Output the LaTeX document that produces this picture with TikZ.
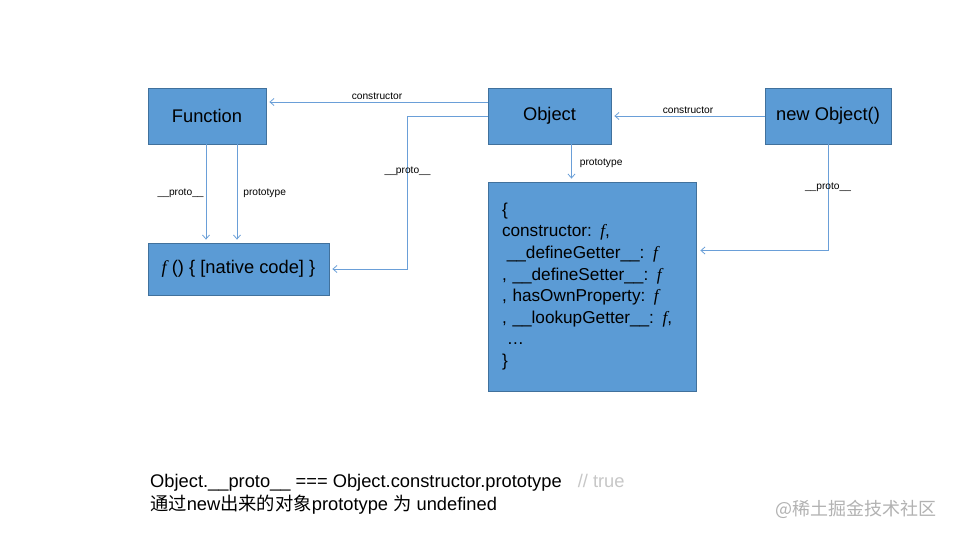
\documentclass[tikz,border=0pt]{standalone}
\usepackage{fontspec}
\setmainfont{Liberation Sans}
\newfontfamily\cjk{Noto Sans CJK SC}
\newfontfamily\fsym{Liberation Serif}
\newcommand{\fn}{{\fsym\itshape f}}
\usetikzlibrary{arrows.meta}
\definecolor{boxfill}{HTML}{5B9BD5}
\definecolor{boxline}{HTML}{41719C}
\definecolor{linkblue}{HTML}{6A9FD8}
\begin{document}
\begin{tikzpicture}[
    x=1pt, y=-1pt,
    every node/.style={font=\fontsize{18.3}{22}\selectfont},
    jsbox/.style={rectangle, draw=boxline, line width=0.8pt, fill=boxfill, minimum height=56pt, inner sep=0pt},
    link/.style={draw=linkblue, line width=0.8pt, -{Straight Barb[length=4pt,width=7pt]}, shorten >=3pt},
    lbl/.style={font=\fontsize{10.2}{12}\selectfont, inner sep=2pt},
    note/.style={anchor=west, inner sep=0pt}
]
\fill[white] (0,0) rectangle (953,537);
\useasboundingbox (0,0) rectangle (953,537);

% Top row
\node[jsbox, minimum width=118pt] (fn) at (207,116) {Function};
\node[jsbox, minimum width=123pt] (obj) at (549.5,116) {Object};
\node[jsbox, minimum width=126pt] (newobj) at (828,116) {new Object()};

% Prototype objects
\node[jsbox, minimum width=181pt, minimum height=52pt] (native) at (238.5,269) {\fn\ () \{ [native code] \}};
\node[jsbox, minimum width=208pt, minimum height=209pt, text width=180pt, inner xsep=14pt, align=left,
      font=\fontsize{17.2}{21.6}\selectfont] (protobox) at (592,286.5)
  {\{\\
   constructor: \fn,\\
   \hspace*{0.28em}\_\_defineGetter\_\_: \fn\\
   , \_\_defineSetter\_\_: \fn\\
   , hasOwnProperty: \fn\\
   , \_\_lookupGetter\_\_: \fn,\\
   \hspace*{0.28em}…\\
   \}};

% Links from Object
\draw[link] ([yshift=14pt]obj.west) -- node[lbl, above] {constructor} ([yshift=14pt]fn.east);
\draw[link] (obj.west) -- ++(-80,0) |- node[lbl, pos=0.18] {\_\_proto\_\_} (native.east);
\draw[link] ([xshift=22pt]obj.south) -- node[lbl, right, xshift=6pt] {prototype} ([xshift=22pt]obj.south |- protobox.north);

% Links from Function
\draw[link] ([xshift=-1pt]fn.south) -- node[lbl, left] {\_\_proto\_\_} ([xshift=-1pt]fn.south |- native.north);
\draw[link] ([xshift=30pt]fn.south) -- node[lbl, right, xshift=4pt] {prototype} ([xshift=30pt]fn.south |- native.north);

% Links from new Object()
\draw[link] (newobj.west) -- node[lbl, above] {constructor} (obj.east);
\draw[link, shorten >=4pt] (newobj.south) |- node[lbl, pos=0.2] {\_\_proto\_\_} ([yshift=36pt]protobox.east);

% Notes
\node[note] (eq) at (150,483) {Object.\_\_proto\_\_ === Object.constructor.prototype \hspace{0.6em}{\color{black!22}// true}};
\node[note] (newnote) at (150,505) {{\cjk 通过}new{\cjk 出来的对象}prototype {\cjk 为} undefined};
\node[note, text=black!30, font=\cjk\fontsize{18}{22}\selectfont] (mark) at (775,509) {@稀土掘金技术社区};

\end{tikzpicture}
\end{document}
